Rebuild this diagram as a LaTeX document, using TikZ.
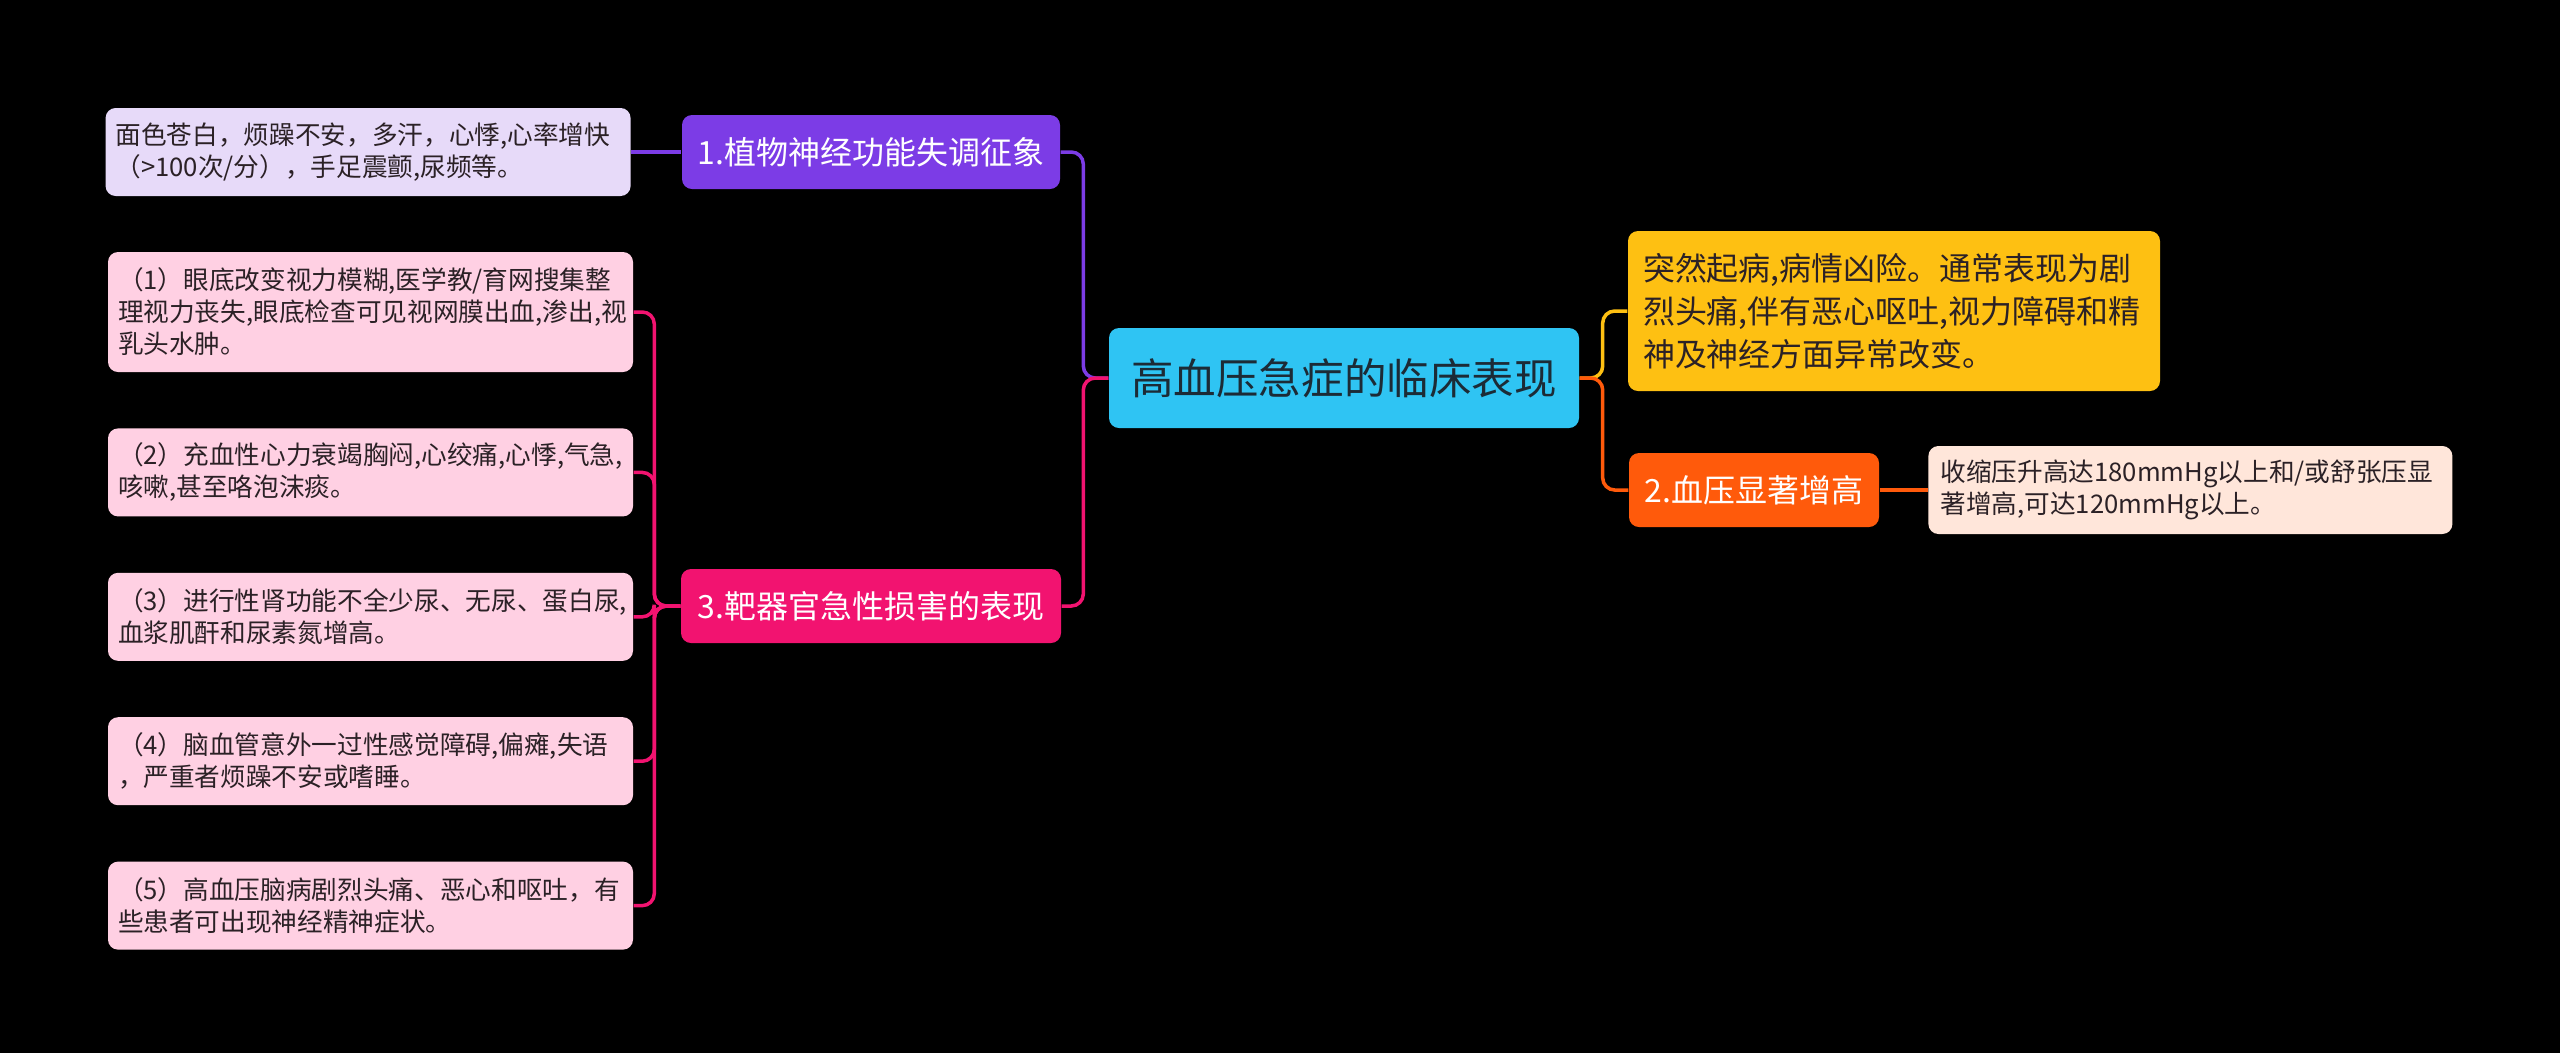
\documentclass[tikz,border=0pt]{standalone}
\usepackage{fontspec}
\newfontfamily\cjk{Noto Sans CJK SC}
\usetikzlibrary{positioning}
\definecolor{rootcol}{HTML}{2FC4F3}
\definecolor{rootink}{HTML}{1C2B36}
\definecolor{purpcol}{HTML}{7C3CE6}
\definecolor{lavcol}{HTML}{E7DAF9}
\definecolor{crimcol}{HTML}{F21370}
\definecolor{pinkcol}{HTML}{FFD0E3}
\definecolor{yelcol}{HTML}{FEC012}
\definecolor{orcol}{HTML}{FF5A0B}
\definecolor{peachcol}{HTML}{FFE6DA}
\definecolor{inkcol}{HTML}{2B2126}
\begin{document}
\begin{tikzpicture}[every node/.style={font=\cjk,rounded corners=0.1cm,inner ysep=0pt},
  rootbox/.style={fill=rootcol,text=rootink,minimum width=4.7cm,minimum height=1cm,font=\cjk\fontsize{12.1pt}{14pt}\selectfont},
  topic/.style={text=white,minimum height=0.74cm,font=\cjk\fontsize{9.1pt}{11pt}\selectfont},
  leaf/.style={text=inkcol,text width=5.05cm,inner xsep=0.1cm,align=left,minimum height=0.88cm,font=\cjk\fontsize{7.3pt}{9.1pt}\selectfont},
  link/.style={draw,line width=1pt,rounded corners=0.12cm}]
\path[use as bounding box,fill=black](0,0) rectangle (25.6,-10.53);

\node[rootbox](root) at (13.44,-3.78){高血压急症的临床表现};

% left side
\node[topic,fill=purpcol,minimum width=3.78cm](veg) at (8.71,-1.52){1.植物神经功能失调征象};
\node[topic,fill=crimcol,minimum width=3.8cm](organ) at (8.71,-6.06){3.靶器官急性损害的表现};
\node[leaf,fill=lavcol,left=0.5cm of veg](vegsym){面色苍白，烦躁不安，多汗，心悸,心率增快\\（>100次/分），手足震颤,尿频等。};

\node[leaf,fill=pinkcol,minimum height=1.2cm](eye) at (3.705,-3.12){（1）眼底改变视力模糊,医学教/育网搜集整\\理视力丧失,眼底检查可见视网膜出血,渗出,视\\乳头水肿。};
\node[leaf,fill=pinkcol,below=0.55cm of eye](heart){（2）充血性心力衰竭胸闷,心绞痛,心悸,气急,\\咳嗽,甚至咯泡沫痰。};
\node[leaf,fill=pinkcol,below=0.55cm of heart](kidney){（3）进行性肾功能不全少尿、无尿、蛋白尿,\\血浆肌酐和尿素氮增高。};
\node[leaf,fill=pinkcol,below=0.55cm of kidney](brain){（4）脑血管意外一过性感觉障碍,偏瘫,失语\\，严重者烦躁不安或嗜睡。};
\node[leaf,fill=pinkcol,below=0.55cm of brain](enceph){（5）高血压脑病剧烈头痛、恶心和呕吐，有\\些患者可出现神经精神症状。};

% right side
\node[leaf,fill=yelcol,text width=5.02cm,inner xsep=0.15cm,minimum height=1.6cm,font=\cjk\fontsize{9.1pt}{12.2pt}\selectfont](onset) at (18.94,-3.11){突然起病,病情凶险。通常表现为剧\\烈头痛,伴有恶心呕吐,视力障碍和精\\神及神经方面异常改变。};
\node[topic,fill=orcol,minimum width=2.5cm](bp) at (17.54,-4.90){2.血压显著增高};
\node[leaf,fill=peachcol,text width=5.0cm,inner xsep=0.12cm,right=0.48cm of bp](bpval){收缩压升高达180mmHg以上和/或舒张压显\\著增高,可达120mmHg以上。};

\draw[link,purpcol](root.west)--++(-0.25,0)|-(veg.east);
\draw[link,crimcol](root.west)--++(-0.25,0)|-(organ.east);
\draw[link,purpcol](vegsym.east)--(veg.west);
\foreach \k in {eye,heart,kidney,brain,enceph}
  \draw[link,crimcol](organ.west)--++(-0.26,0)|-(\k.east);

\draw[link,yelcol](root.east)--++(0.23,0)|-(onset.west);
\draw[link,orcol](root.east)--++(0.23,0)|-(bp.west);
\draw[link,orcol](bp.east)--(bpval.west);
\end{tikzpicture}
\end{document}
